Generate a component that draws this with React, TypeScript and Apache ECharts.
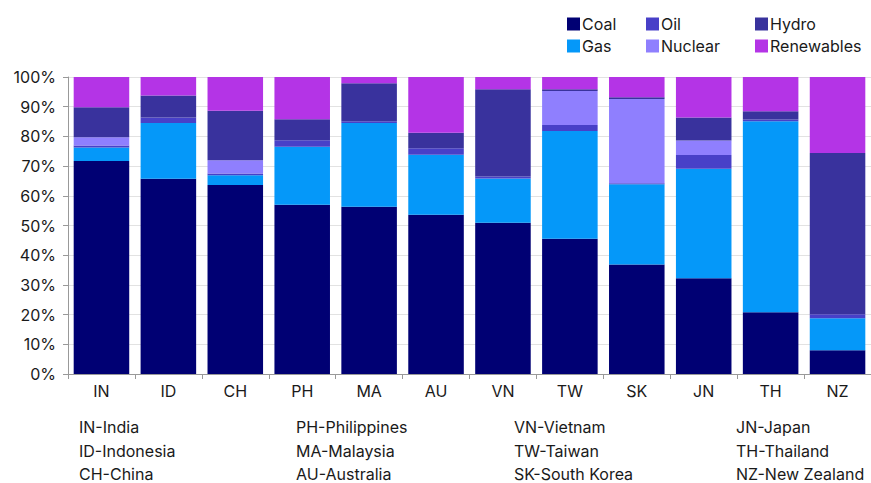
import React, { useEffect, useRef } from "react";
import * as echarts from "echarts";

const categories = ["IN", "ID", "CH", "PH", "MA", "AU", "VN", "TW", "SK", "JN", "TH", "NZ"];
const coal = [71.7, 65.7, 63.6, 57.0, 56.3, 53.6, 50.9, 45.5, 36.9, 32.2, 20.8, 8.0];
const gas = [4.6, 18.8, 3.3, 19.5, 28.2, 20.2, 14.9, 36.3, 27.0, 36.9, 64.3, 10.8];
const oil = [0.6, 1.9, 0.6, 2.2, 0.6, 2.2, 0.7, 2.0, 0.3, 4.6, 0.6, 1.3];
const nuclear = [2.8, 0, 4.5, 0, 0, 0, 0, 11.5, 28.4, 4.9, 0, 0];
const hydro = [10.1, 7.4, 16.6, 7.1, 12.8, 5.2, 29.4, 0.6, 0.6, 7.8, 2.8, 54.3];
const renewables = [10.2, 6.2, 11.4, 14.2, 2.1, 18.8, 4.1, 4.1, 6.8, 13.6, 11.5, 25.6];
const yTicks = [0, 10, 20, 30, 40, 50, 60, 70, 80, 90, 100];
const footnotes = [
  ["IN-India", "ID-Indonesia", "CH-China"],
  ["PH-Philippines", "MA-Malaysia", "AU-Australia"],
  ["VN-Vietnam", "TW-Taiwan", "SK-South Korea"],
  ["JN-Japan", "TH-Thailand", "NZ-New Zealand"],
];

const FONT = "Inter, 'Noto Sans', sans-serif";
const TEXT = "#1a1a1a";

export default function App() {
  const ref = useRef<HTMLDivElement>(null);
  useEffect(() => {
    if (!ref.current) return;
    const chart = echarts.init(ref.current, null, { renderer: "svg" });
    const mk = (name: string, data: number[], color: string) => ({
      name,
      type: "bar",
      stack: "total",
      data,
      barCategoryGap: "17%",
      itemStyle: { color },
      emphasis: { disabled: true },
    });
    const footX = [79, 296, 514, 736];
    const footY = [427, 451, 474];
    const graphics: any[] = [];
    footnotes.forEach((col, ci) =>
      col.forEach((t, ri) =>
        graphics.push({
          type: "text",
          x: footX[ci],
          y: footY[ri],
          style: { text: t, fill: TEXT, font: `16px ${FONT}`, textVerticalAlign: "middle" },
        })
      )
    );
    const legendCommon = {
      orient: "vertical",
      top: 16,
      itemWidth: 13,
      itemHeight: 13,
      itemGap: 6,
      icon: "rect",
      selectedMode: false,
      textStyle: { fontSize: 16, color: TEXT, fontFamily: FONT, padding: [0, 0, 0, -3] },
      padding: 0,
    };
    chart.setOption({
      animation: false,
      textStyle: { fontFamily: FONT },
      legend: [
        { ...legendCommon, left: 567, data: ["Coal", "Gas"] },
        { ...legendCommon, left: 646, data: ["Oil", "Nuclear"] },
        { ...legendCommon, left: 755, data: ["Hydro", "Renewables"] },
      ],
      grid: { left: 68, top: 77, width: 811, height: 297, containLabel: false },
      xAxis: {
        type: "category",
        data: categories,
        axisLine: { lineStyle: { color: "#999", width: 1 } },
        axisTick: { show: true, length: 5, lineStyle: { color: "#999" } },
        axisLabel: { fontSize: 16, color: TEXT, fontFamily: FONT, margin: 9 },
      },
      yAxis: {
        type: "value",
        min: 0,
        max: 100,
        interval: 10,
        axisLine: { show: true, lineStyle: { color: "#999" } },
        axisTick: { show: true, length: 5, lineStyle: { color: "#999" } },
        splitLine: { lineStyle: { color: "#e2e2e2" } },
        axisLabel: {
          fontSize: 16,
          color: TEXT,
          fontFamily: FONT,
          margin: 12,
          formatter: (v: number) => (yTicks.includes(v) ? `${v}%` : ""),
        },
      },
      series: [
        mk("Coal", coal, "#000073"),
        mk("Gas", gas, "#0598f9"),
        mk("Oil", oil, "#4840c8"),
        mk("Nuclear", nuclear, "#8f7ffe"),
        mk("Hydro", hydro, "#39329d"),
        mk("Renewables", renewables, "#b434e6"),
      ],
      graphic: graphics,
    });
    return () => chart.dispose();
  }, []);
  return (
    <div
      ref={ref}
      style={{ position: "fixed", left: 0, top: 0, width: 871, height: 483, background: "#fff" }}
    />
  );
}
